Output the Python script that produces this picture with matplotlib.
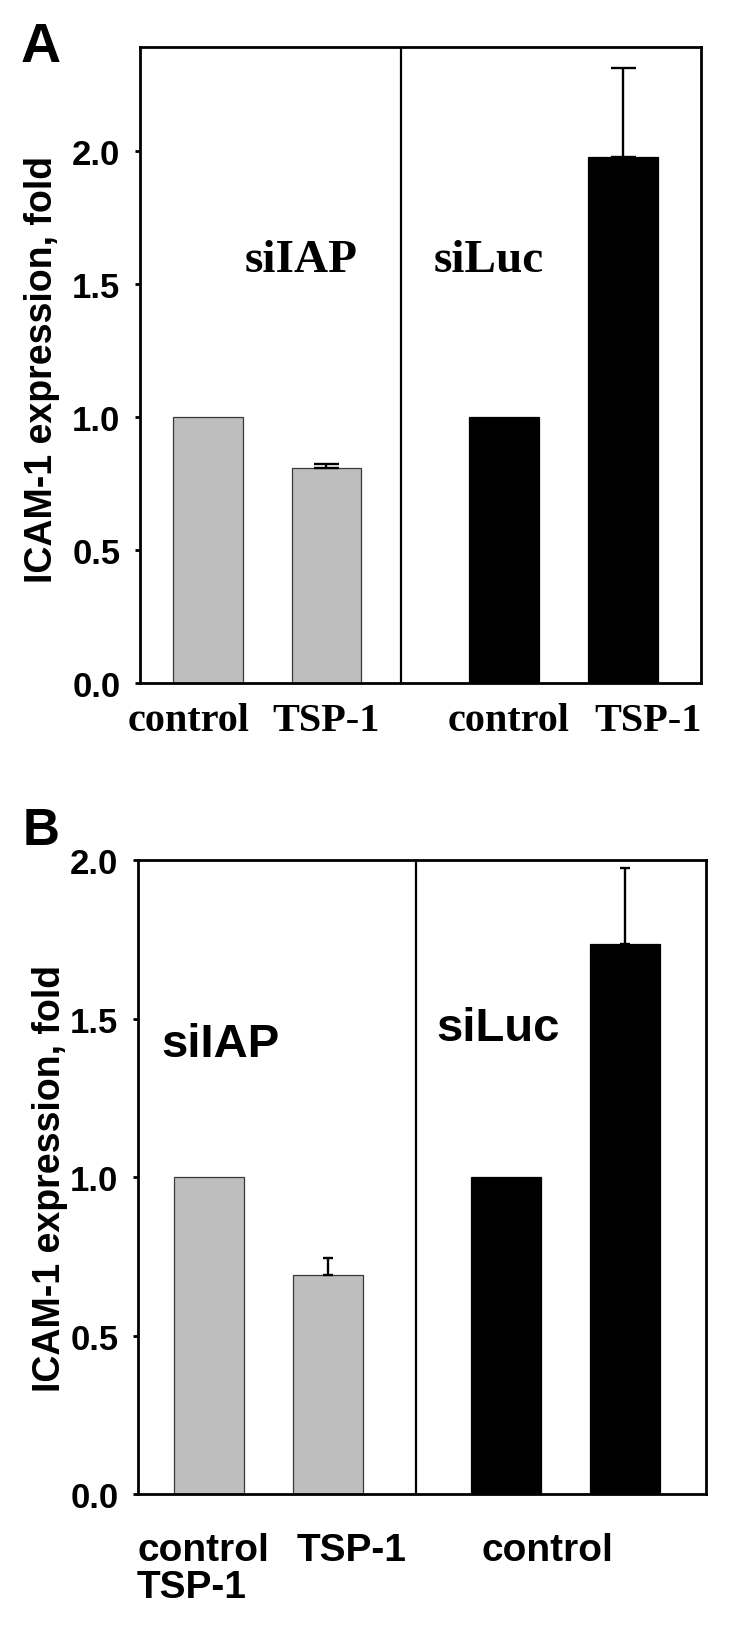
import matplotlib
matplotlib.use('Agg')
import matplotlib.pyplot as plt

# valores
grupos = ['control', 'TSP-1', 'control', 'TSP-1']
pos = [0, 1, 2.5, 3.5]
cores = ['#bebebe', '#bebebe', 'black', 'black']
bordas = ['#3a3a3a', '#3a3a3a', 'black', 'black']

valores_A = [1.0, 0.808, 1.0, 1.978]
erros_A = [0, 0.015, 0, 0.334]
valores_B = [1.0, 0.69, 1.0, 1.735]
erros_B = [0, 0.056, 0, 0.24]

rotulos_B = ['control\nTSP-1', 'TSP-1', 'control']

SANS = 'Liberation Sans'
SERIF = 'Liberation Serif'

fig = plt.figure(figsize=(7.29, 16.40), dpi=100)


def painel(ax, valores, erros, ylim, divisor, capsize):
    ax.bar(pos, valores, width=0.59, color=cores, edgecolor=bordas, linewidth=0.9, zorder=2)
    idx = [i for i in range(len(erros)) if erros[i] > 0]
    ax.errorbar([pos[i] for i in idx], [valores[i] for i in idx],
                yerr=[[0] * len(idx), [erros[i] for i in idx]],
                fmt='none', ecolor='black', elinewidth=1.7, capsize=capsize, capthick=1.7, zorder=3)
    ax.axvline(divisor, color='black', linewidth=1.6, zorder=1)
    ax.set_ylim(*ylim)
    ax.set_yticks([0, 0.5, 1.0, 1.5, 2.0])
    ax.set_yticklabels(['0.0', '0.5', '1.0', '1.5', '2.0'], fontfamily=SANS,
                       fontweight='bold', fontsize=25)
    ax.tick_params(axis='y', direction='out', length=3.6, width=2, pad=10.5)
    for s in ax.spines.values():
        s.set_linewidth(2.0)


# ---- painel A
axA = fig.add_axes([0.1920, 0.5829, 0.7695, 0.3878])
painel(axA, valores_A, erros_A, (0, 2.39), 1.63, 9)
axA.set_xlim(-0.574, 4.16)
axA.set_xticks([-0.16, 1.0, 2.54, 3.71])
axA.set_xticklabels(grupos, fontfamily=SERIF, fontweight='bold', fontsize=29)
axA.tick_params(axis='x', length=0, pad=14)
axA.text(0.79, 1.59, 'siIAP', fontfamily=SERIF, fontweight='bold', fontsize=34,
         ha='center', va='center')
axA.text(2.37, 1.59, 'siLuc', fontfamily=SERIF, fontweight='bold', fontsize=34,
         ha='center', va='center')
axA.set_ylabel('ICAM-1 expression, fold', fontfamily=SANS, fontweight='bold',
               fontsize=27, va='center')
axA.yaxis.set_label_coords(-(140 - 42) / 561, 0.495)
fig.text(21 / 729, 1 - 62 / 1640, 'A', fontfamily=SANS, fontweight='bold', fontsize=40,
         ha='left', va='baseline')

# ---- painel B
axB = fig.add_axes([0.1893, 0.0884, 0.7791, 0.3866])
painel(axB, valores_B, erros_B, (0, 2.0), 1.74, 3.6)
axB.set_xlim(-0.597, 4.18)
axB.set_xticks([-0.05, 1.2, 2.85])
axB.set_xticklabels(rotulos_B, fontfamily=SANS, fontweight='bold', fontsize=28,
                    multialignment='left', linespacing=1.05)
axB.tick_params(axis='x', length=0, pad=27)
axB.text(0.10, 1.42, 'siIAP', fontfamily=SANS, fontweight='bold', fontsize=34,
         ha='center', va='center')
axB.text(2.43, 1.47, 'siLuc', fontfamily=SANS, fontweight='bold', fontsize=34,
         ha='center', va='center')
axB.set_ylabel('ICAM-1 expression, fold', fontfamily=SANS, fontweight='bold',
               fontsize=27, va='center')
axB.yaxis.set_label_coords(-(138 - 50) / 568, 0.50)
fig.text(23 / 729, 1 - 845 / 1640, 'B', fontfamily=SANS, fontweight='bold', fontsize=37,
         ha='left', va='baseline')

fig.savefig('out.png', dpi=100)
